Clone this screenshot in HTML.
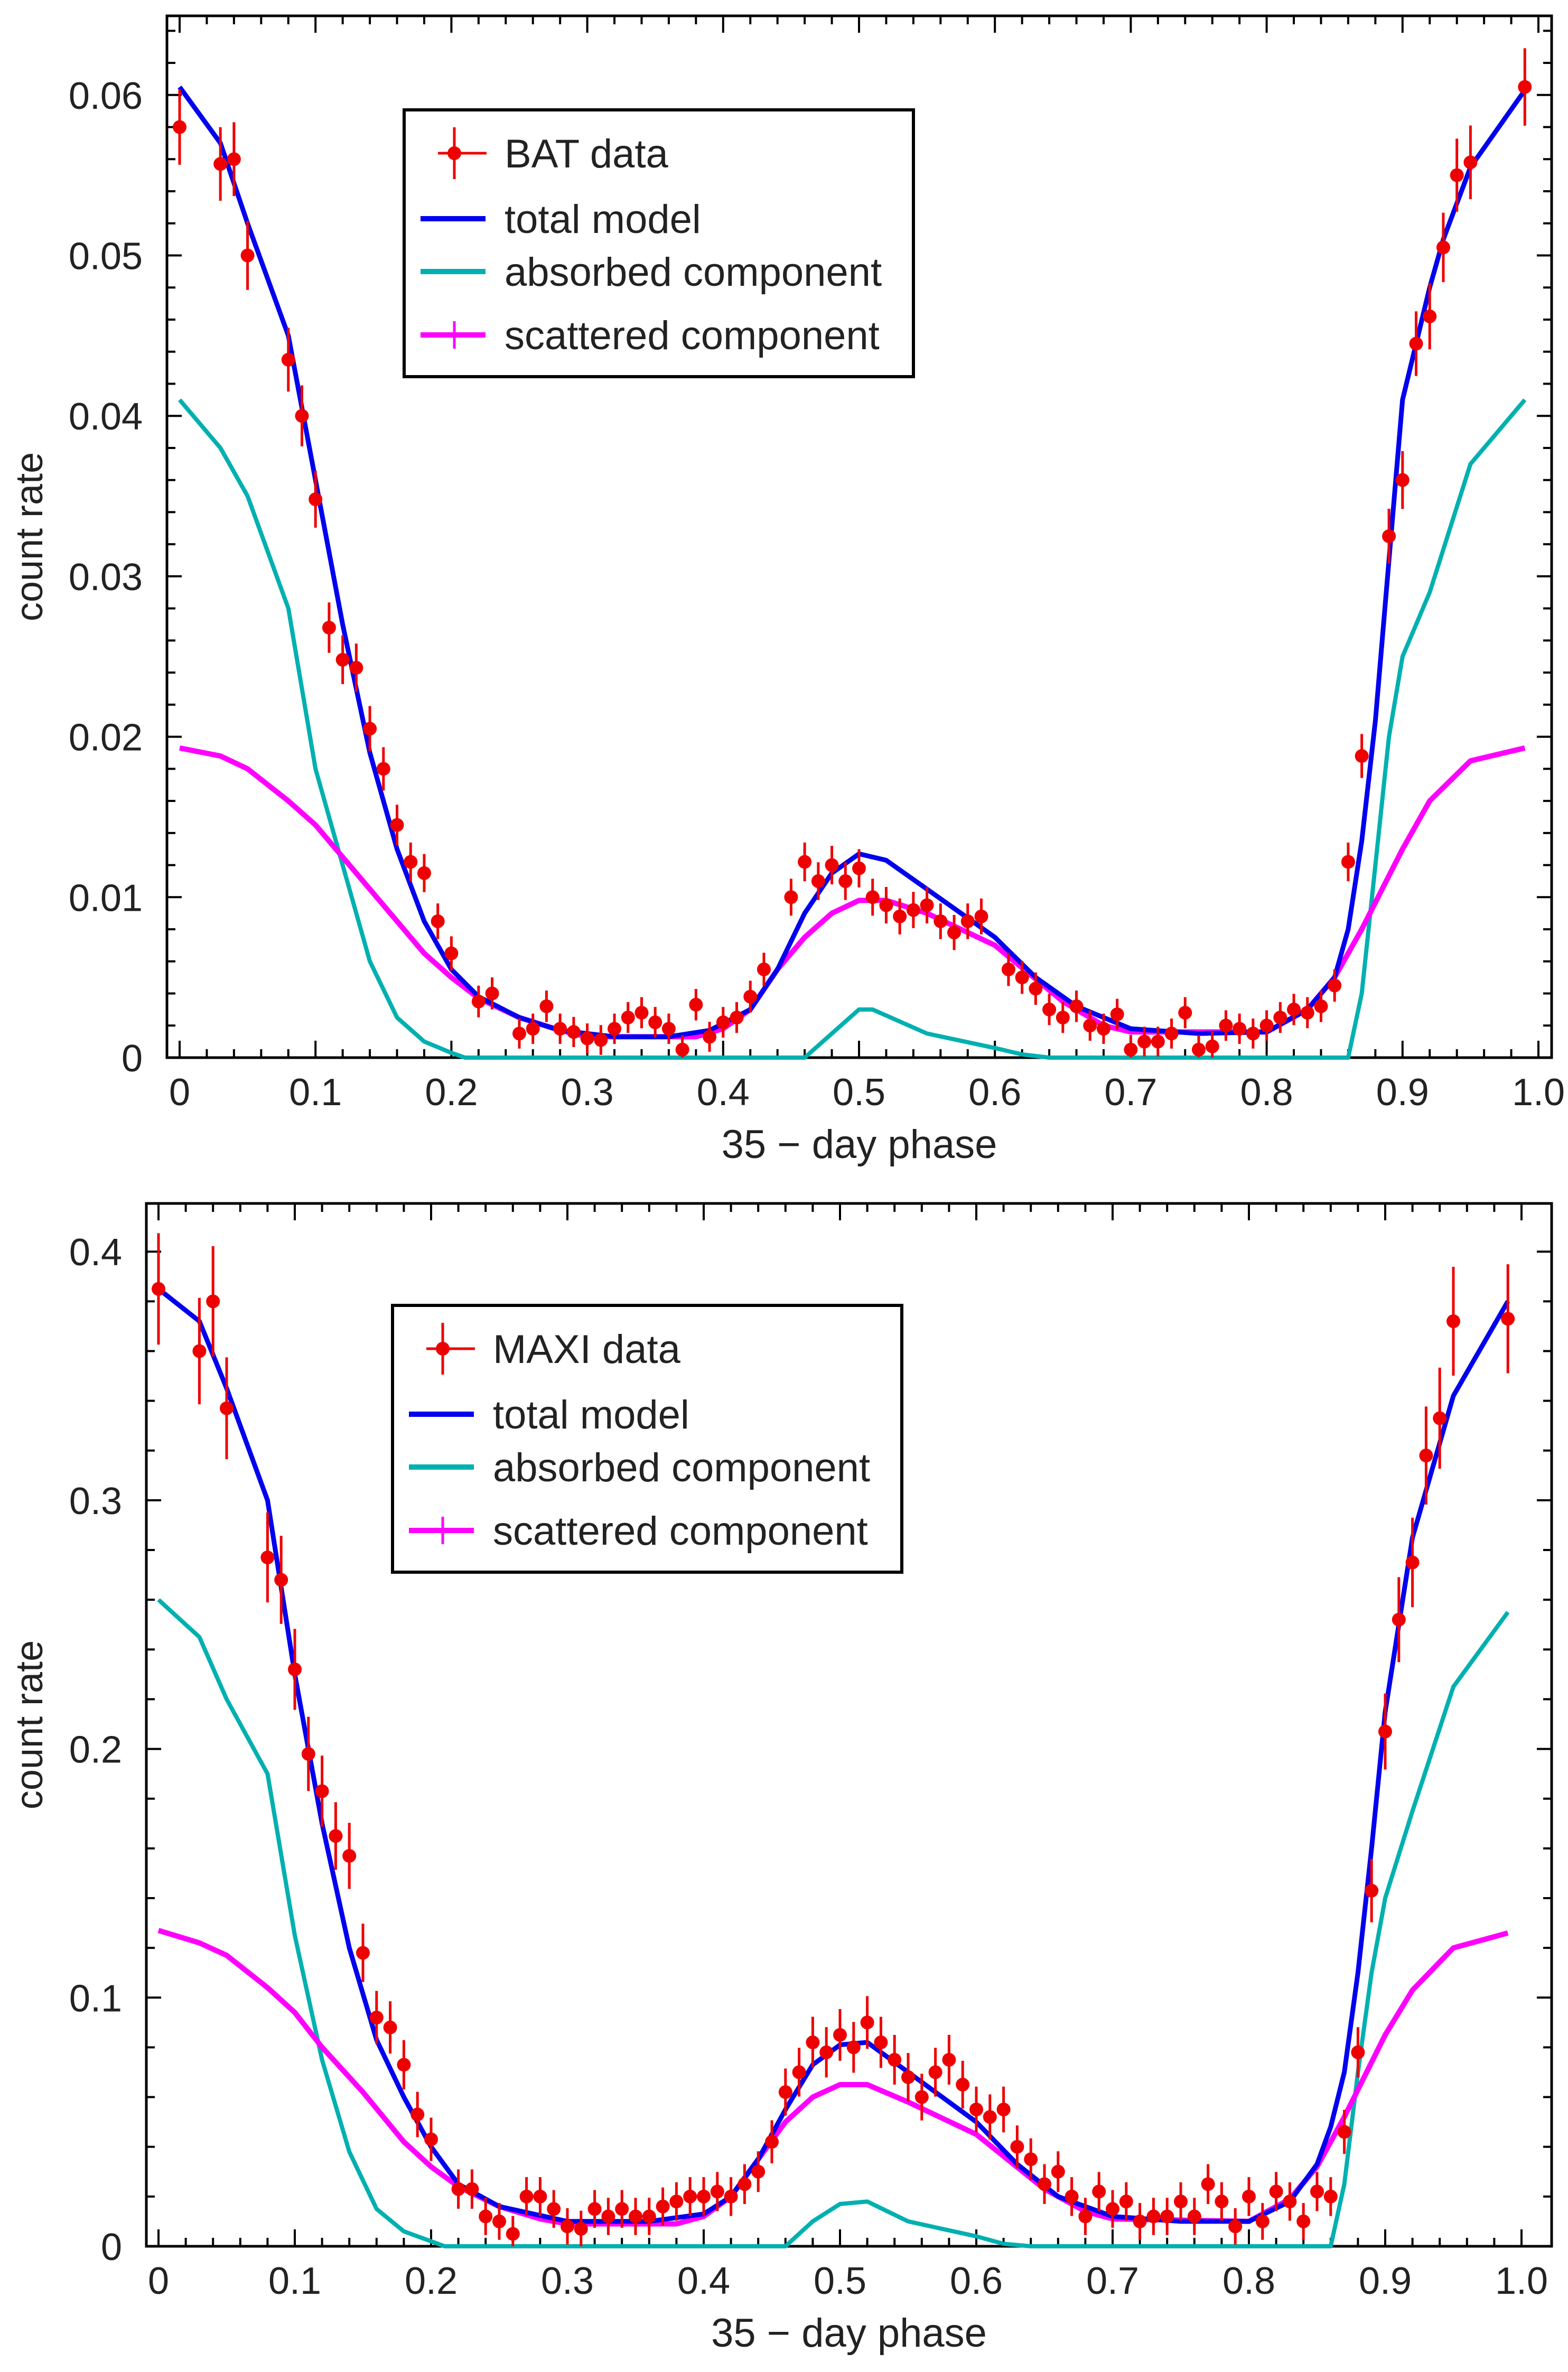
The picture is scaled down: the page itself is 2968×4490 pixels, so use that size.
<!DOCTYPE html>
<html><head><meta charset="utf-8"><style>
html,body{margin:0;padding:0;background:#fff;}
svg{display:block;font-family:"Liberation Sans","DejaVu Sans",sans-serif;}
</style></head><body>
<svg id="fig" width="2968" height="4490" viewBox="0 0 2968 4490" xmlns="http://www.w3.org/2000/svg"></svg>
<script>
// ---- BAT panel data ----
const batPhase = [0.0,0.03,0.04,0.05,0.08,0.09,0.10,0.11,0.12,0.13,0.14,0.15,0.16,0.17,0.18,0.19,0.20,0.22,0.23,0.25,0.26,0.27,0.28,0.29,0.30,0.31,0.32,0.33,0.34,0.35,0.36,0.37,0.38,0.39,0.40,0.41,0.42,0.43,0.45,0.46,0.47,0.48,0.49,0.50,0.51,0.52,0.53,0.54,0.55,0.56,0.57,0.58,0.59,0.61,0.62,0.63,0.64,0.65,0.66,0.67,0.68,0.69,0.70,0.71,0.72,0.73,0.74,0.75,0.76,0.77,0.78,0.79,0.80,0.81,0.82,0.83,0.84,0.85,0.86,0.87,0.89,0.90,0.91,0.92,0.93,0.94,0.95,0.99];
const batRate = [0.058,0.0557,0.056,0.050,0.0435,0.040,0.0348,0.0268,0.0248,0.0243,0.0205,0.018,0.0145,0.0122,0.0115,0.0085,0.0065,0.0035,0.004,0.0015,0.0018,0.0032,0.0018,0.0016,0.0012,0.0011,0.0018,0.0025,0.0028,0.0022,0.0018,0.0005,0.0033,0.0013,0.0022,0.0025,0.0038,0.0055,0.010,0.0122,0.011,0.012,0.011,0.0118,0.010,0.0095,0.0088,0.0092,0.0095,0.0085,0.0078,0.0085,0.0088,0.0055,0.005,0.0043,0.003,0.0025,0.0032,0.002,0.0018,0.0027,0.0005,0.001,0.001,0.0015,0.0028,0.0005,0.0007,0.002,0.0018,0.0015,0.002,0.0025,0.003,0.0028,0.0032,0.0045,0.0122,0.0188,0.0325,0.036,0.0445,0.0462,0.0505,0.055,0.0558,0.0605];
const batTotPhase = [0,0.03,0.05,0.08,0.1,0.12,0.14,0.16,0.18,0.2,0.22,0.25,0.28,0.32,0.36,0.39,0.42,0.44,0.46,0.48,0.5,0.52,0.55,0.6,0.63,0.66,0.7,0.75,0.8,0.83,0.85,0.86,0.87,0.88,0.89,0.9,0.92,0.93,0.95,0.99];
const batTot = [0.0605,0.057,0.052,0.045,0.036,0.027,0.019,0.013,0.0085,0.0055,0.0038,0.0025,0.0017,0.0013,0.0013,0.0017,0.003,0.0055,0.009,0.0115,0.0127,0.0123,0.0105,0.0075,0.005,0.0032,0.0018,0.0015,0.0016,0.003,0.005,0.008,0.0135,0.021,0.031,0.041,0.048,0.051,0.0555,0.0603];
const batAbsPhase = [0,0.03,0.05,0.08,0.1,0.12,0.14,0.16,0.18,0.2,0.21,0.46,0.48,0.5,0.51,0.55,0.6,0.62,0.64,0.86,0.87,0.88,0.89,0.9,0.92,0.95,0.99];
const batAbs = [0.041,0.038,0.035,0.028,0.018,0.012,0.006,0.0025,0.001,0.0003,0,0,0.0015,0.003,0.003,0.0015,0.0006,0.0002,0,0,0.004,0.012,0.02,0.025,0.029,0.037,0.041];
const batScaPhase = [0,0.03,0.05,0.08,0.1,0.12,0.15,0.18,0.2,0.22,0.25,0.28,0.3,0.38,0.4,0.42,0.44,0.46,0.48,0.5,0.52,0.55,0.6,0.65,0.68,0.7,0.8,0.83,0.85,0.87,0.9,0.92,0.95,0.99];
const batSca = [0.0193,0.0188,0.018,0.016,0.0145,0.0125,0.0095,0.0065,0.005,0.0037,0.0025,0.0017,0.0013,0.0013,0.0018,0.003,0.0055,0.0075,0.009,0.0098,0.0098,0.009,0.007,0.0035,0.002,0.0016,0.0016,0.003,0.005,0.008,0.013,0.016,0.0185,0.0193];
const batYTicks = ["0","0.01","0.02","0.03","0.04","0.05","0.06"];
const xTickLabels = ["0","0.1","0.2","0.3","0.4","0.5","0.6","0.7","0.8","0.9","1.0"];

// ---- MAXI panel data ----
const maxiPhase = [0.0,0.03,0.04,0.05,0.08,0.09,0.10,0.11,0.12,0.13,0.14,0.15,0.16,0.17,0.18,0.19,0.20,0.22,0.23,0.24,0.25,0.26,0.27,0.28,0.29,0.30,0.31,0.32,0.33,0.34,0.35,0.36,0.37,0.38,0.39,0.40,0.41,0.42,0.43,0.44,0.45,0.46,0.47,0.48,0.49,0.50,0.51,0.52,0.53,0.54,0.55,0.56,0.57,0.58,0.59,0.60,0.61,0.62,0.63,0.64,0.65,0.66,0.67,0.68,0.69,0.70,0.71,0.72,0.73,0.74,0.75,0.76,0.77,0.78,0.79,0.80,0.81,0.82,0.83,0.84,0.85,0.86,0.87,0.88,0.89,0.90,0.91,0.92,0.93,0.94,0.95,0.99];
const maxiRate = [0.385,0.36,0.38,0.337,0.277,0.268,0.232,0.198,0.183,0.165,0.157,0.118,0.092,0.088,0.073,0.053,0.043,0.023,0.023,0.012,0.01,0.005,0.02,0.02,0.015,0.008,0.007,0.015,0.012,0.015,0.012,0.012,0.016,0.018,0.02,0.02,0.022,0.02,0.025,0.03,0.042,0.062,0.07,0.082,0.078,0.085,0.08,0.09,0.082,0.075,0.068,0.06,0.07,0.075,0.065,0.055,0.052,0.055,0.04,0.035,0.025,0.03,0.02,0.012,0.022,0.015,0.018,0.01,0.012,0.012,0.018,0.012,0.025,0.018,0.008,0.02,0.01,0.022,0.018,0.01,0.022,0.02,0.046,0.078,0.143,0.207,0.252,0.275,0.318,0.333,0.372,0.373];
const maxiTotPhase = [0,0.03,0.05,0.08,0.1,0.12,0.14,0.16,0.18,0.2,0.22,0.25,0.3,0.36,0.4,0.42,0.44,0.46,0.48,0.5,0.52,0.55,0.6,0.63,0.66,0.7,0.75,0.8,0.83,0.85,0.86,0.87,0.88,0.89,0.9,0.92,0.95,0.99];
const maxiTot = [0.385,0.372,0.345,0.3,0.23,0.17,0.12,0.083,0.06,0.04,0.025,0.016,0.01,0.01,0.013,0.02,0.035,0.055,0.073,0.081,0.082,0.07,0.05,0.033,0.02,0.012,0.01,0.01,0.018,0.033,0.048,0.07,0.11,0.16,0.215,0.285,0.342,0.38];
const maxiAbsPhase = [0,0.03,0.05,0.08,0.1,0.12,0.14,0.16,0.18,0.2,0.21,0.46,0.48,0.5,0.52,0.55,0.6,0.62,0.64,0.86,0.87,0.88,0.89,0.9,0.92,0.95,0.99];
const maxiAbs = [0.26,0.245,0.22,0.19,0.125,0.075,0.038,0.015,0.006,0.002,0,0,0.01,0.017,0.018,0.01,0.004,0.001,0,0,0.025,0.07,0.11,0.14,0.175,0.225,0.255];
const maxiScaPhase = [0,0.03,0.05,0.08,0.1,0.12,0.15,0.18,0.2,0.22,0.25,0.28,0.3,0.38,0.4,0.42,0.44,0.46,0.48,0.5,0.52,0.55,0.6,0.65,0.68,0.7,0.8,0.83,0.85,0.87,0.9,0.92,0.95,0.99];
const maxiSca = [0.127,0.122,0.117,0.104,0.094,0.08,0.062,0.042,0.032,0.024,0.016,0.011,0.009,0.009,0.012,0.02,0.035,0.05,0.06,0.065,0.065,0.058,0.045,0.023,0.014,0.011,0.01,0.019,0.032,0.052,0.085,0.103,0.12,0.126];
const maxiYTicks = ["0","0.1","0.2","0.3","0.4"];

const NS = "http://www.w3.org/2000/svg";
const svg = document.getElementById('fig');
function mk(tag, attrs, parent){ const e=document.createElementNS(NS,tag); for(const k in attrs) e.setAttribute(k,attrs[k]); (parent||svg).appendChild(e); return e; }

function panel(o){
  const g = mk('g',{});
  
  
  const xs = p => o.x0 + p*o.xu;
  const ys = v => o.yz - v*o.yu;
  const frame = mk('rect',{x:o.L,y:o.T,width:o.R-o.L,height:o.B-o.T,fill:'none',stroke:'#000','stroke-width':5},g);
  
  
  for(let i=0;i<=50;i++){
    const p=i*0.02, x=xs(p), major=(i%5===0), len=major?32:16;
    if(x>o.R) continue;
    mk('line',{x1:x,y1:o.B,x2:x,y2:o.B-len,stroke:'#000','stroke-width':4},g);
    mk('line',{x1:x,y1:o.T,x2:x,y2:o.T+len,stroke:'#000','stroke-width':4},g);
  }
  xTickLabels.forEach((t,i)=>{
    const tx = mk('text',{x:xs(i*0.1),y:o.B+90,'font-size':72,'text-anchor':'middle',fill:'#222'},g);
    tx.textContent=t;
    
    
  });
  const nMinor = o.yTicks.length*o.minorPer;
  for(let i=0;i<=nMinor+o.minorPer;i++){
    const v=i*o.yStep/o.minorPer, y=ys(v);
    if(y<o.T+5) continue;
    const major=(i%o.minorPer===0), len=major?28:16;
    mk('line',{x1:o.L,y1:y,x2:o.L+len,y2:y,stroke:'#000','stroke-width':4},g);
    mk('line',{x1:o.R,y1:y,x2:o.R-len,y2:y,stroke:'#000','stroke-width':4},g);
  }
  o.yTicks.forEach((t,i)=>{
    const tx = mk('text',{x:o.L-46,y:ys(i*o.yStep)+26,'font-size':72,'text-anchor':'end',fill:'#222'},g);
    tx.textContent=t;
    
    
  });
  const xt = mk('text',{x:(o.L+o.R)/2,y:o.B+190,'font-size':76,'text-anchor':'middle',fill:'#222'},g);
  xt.textContent='35 \u2212 day phase';
  
  
  const yc=(o.T+o.B)/2;
  const yt = mk('text',{x:0,y:0,'font-size':72,'text-anchor':'middle',fill:'#222',transform:`translate(80,${yc}) rotate(-90)`},g);
  yt.textContent='count rate';
  
  
  function line(px,py,color,w,name){
    const d = px.map((p,i)=>(i?'L':'M')+xs(p).toFixed(1)+','+ys(py[i]).toFixed(1)).join(' ');
    const pth = mk('path',{d:d,fill:'none',stroke:color,'stroke-width':w,'stroke-linejoin':'round'},g);
    
    
  }
  line(o.absP,o.abs,'#00b0b0',8,'absorbed-component-line');
  line(o.scaP,o.sca,'#ff00ff',10,'scattered-component-line');
  line(o.totP,o.tot,'#0000ee',9,'total-model-line');
  o.dP.forEach((p,i)=>{
    const v=o.dV[i], x=xs(p), y=ys(v), e=o.err(v);
    const eb = mk('line',{x1:x,y1:ys(v+e),x2:x,y2:Math.min(ys(Math.max(v-e,0)),o.B),stroke:'#ee0000','stroke-width':5},g);
    
    
    const c = mk('circle',{cx:x,cy:y,r:13,fill:'#ee0000'},g);
    
    
  });
  const lg = mk('g',{transform:`translate(${o.lx},${o.ly})`},g);
  
  
  mk('rect',{x:0,y:0,width:964,height:505,fill:'#fff',stroke:'#000','stroke-width':6},lg);
  const rows=[[82,o.dataLabel],[206,'total model'],[306,'absorbed component'],[426,'scattered component']];
  mk('line',{x1:64,y1:82,x2:156,y2:82,stroke:'#ee0000','stroke-width':5},lg);
  mk('line',{x1:95,y1:33,x2:95,y2:131,stroke:'#ee0000','stroke-width':5},lg);
  mk('circle',{cx:95,cy:82,r:13,fill:'#ee0000'},lg);
  mk('line',{x1:31,y1:206,x2:154,y2:206,stroke:'#0000ee','stroke-width':10},lg);
  mk('line',{x1:31,y1:306,x2:154,y2:306,stroke:'#00b0b0','stroke-width':10},lg);
  mk('line',{x1:31,y1:426,x2:154,y2:426,stroke:'#ff00ff','stroke-width':10},lg);
  mk('line',{x1:95,y1:400,x2:95,y2:452,stroke:'#ff00ff','stroke-width':5},lg);
  rows.forEach(r=>{
    const t = mk('text',{x:190,y:r[0]+27,'font-size':76,fill:'#222'},lg);
    t.textContent=r[1];
    
    
  });
}

panel({name:'bat-panel',L:316,R:2937,T:30,B:2002,x0:340,xu:2572,yz:2002,yu:30370,yStep:0.01,minorPer:5,
  yTicks:batYTicks,dP:batPhase,dV:batRate,err:v=>0.0009+v*0.025,
  totP:batTotPhase,tot:batTot,absP:batAbsPhase,abs:batAbs,scaP:batScaPhase,sca:batSca,
  lx:765,ly:208,dataLabel:'BAT data'});
panel({name:'maxi-panel',L:277,R:2937,T:2278,B:4252,x0:300,xu:2580,yz:4252,yu:4707,yStep:0.1,minorPer:5,
  yTicks:maxiYTicks,dP:maxiPhase,dV:maxiRate,err:v=>0.007+v*0.04,
  totP:maxiTotPhase,tot:maxiTot,absP:maxiAbsPhase,abs:maxiAbs,scaP:maxiScaPhase,sca:maxiSca,
  lx:743,ly:2471,dataLabel:'MAXI data'});
</script>
</body></html>
